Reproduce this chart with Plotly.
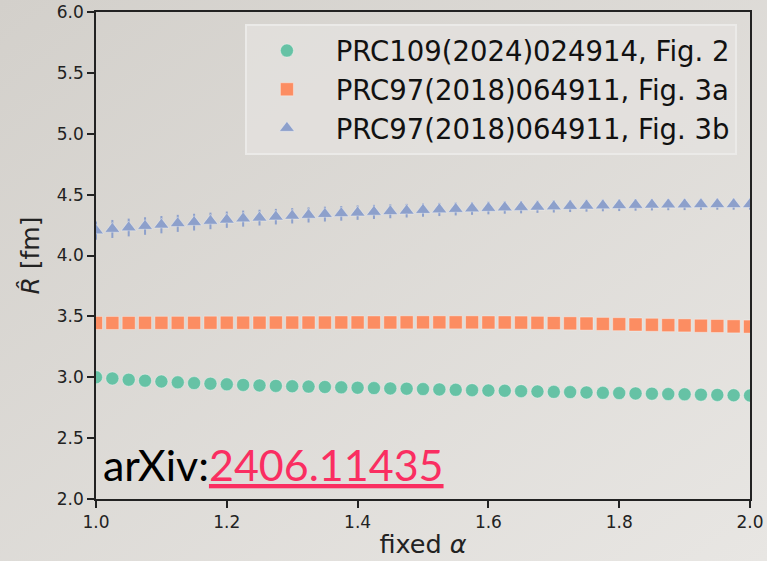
import base64
import plotly.graph_objects as go

alpha = [round(1.0 + 0.025 * i, 3) for i in range(41)]

green = [3.000, 2.990, 2.980, 2.972, 2.965, 2.958, 2.952, 2.947, 2.942, 2.937,
         2.933, 2.929, 2.926, 2.923, 2.920, 2.917, 2.914, 2.911, 2.908, 2.906,
         2.903, 2.900, 2.897, 2.894, 2.891, 2.889, 2.886, 2.883, 2.880, 2.878,
         2.875, 2.872, 2.870, 2.867, 2.865, 2.862, 2.860, 2.857, 2.855, 2.852, 2.850]
green_err = [0.02] * 41

orange = [3.446, 3.446, 3.446, 3.447, 3.447, 3.447, 3.447, 3.448, 3.448, 3.448,
          3.448, 3.449, 3.449, 3.449, 3.449, 3.450, 3.450, 3.450, 3.450, 3.451,
          3.451, 3.451, 3.451, 3.451, 3.450, 3.450, 3.449, 3.447, 3.445, 3.443,
          3.441, 3.438, 3.436, 3.433, 3.431, 3.428, 3.426, 3.423, 3.421, 3.418, 3.416]
orange_err = [0.02] * 41

blue = [4.205, 4.218, 4.230, 4.242, 4.253, 4.264, 4.274, 4.284, 4.294, 4.303,
        4.311, 4.319, 4.326, 4.333, 4.340, 4.346, 4.352, 4.358, 4.363, 4.368,
        4.373, 4.378, 4.382, 4.386, 4.390, 4.394, 4.397, 4.400, 4.403, 4.406,
        4.409, 4.411, 4.413, 4.415, 4.417, 4.418, 4.419, 4.420, 4.421, 4.421, 4.421]
blue_err = [0.075, 0.074, 0.073, 0.072, 0.071, 0.070, 0.069, 0.068, 0.067, 0.066,
            0.065, 0.064, 0.063, 0.062, 0.061, 0.060, 0.059, 0.058, 0.057, 0.056,
            0.055, 0.054, 0.053, 0.052, 0.052, 0.051, 0.051, 0.050, 0.050, 0.049,
            0.049, 0.048, 0.048, 0.047, 0.047, 0.046, 0.046, 0.045, 0.045, 0.045, 0.045]

names = ["PRC109(2024)024914, Fig. 2", "PRC97(2018)064911, Fig. 3a", "PRC97(2018)064911, Fig. 3b"]
colors = ["#66c2a5", "#fc8d62", "#8da0cb"]
symbols = ["circle", "square", "triangle-up"]
series = [(green, green_err), (orange, orange_err), (blue, blue_err)]

W, H = 767, 561
ML, MR, MT, MB = 96, 17, 12, 62
PW, PH = W - ML - MR, H - MT - MB

fig = go.Figure()
for (vals, errs), name, col, sym in zip(series, names, colors, symbols):
    fig.add_trace(go.Scatter(
        x=alpha, y=vals, mode="markers", name="\u00a0" + name,
        marker=dict(symbol=sym, size=13, color=col,
                    line=dict(width=1, color="rgba(255,255,255,0.35)")),
        error_y=dict(type="data", array=errs, visible=True, color=col,
                     thickness=2, width=0),
        cliponaxis=True,
    ))

# slide background gradient
svg = ("<svg xmlns='http://www.w3.org/2000/svg' width='767' height='561'>"
       "<defs><linearGradient id='g' x1='0' y1='0' x2='1' y2='1'>"
       "<stop offset='0' stop-color='#d3d0cb'/><stop offset='1' stop-color='#e8e6e3'/>"
       "</linearGradient></defs><rect width='767' height='561' fill='url(#g)'/></svg>")
src = "data:image/svg+xml;base64," + base64.b64encode(svg.encode()).decode()
fig.add_layout_image(
    source=src, xref="paper", yref="paper",
    x=-ML / PW, y=1 + MT / PH, sizex=W / PW, sizey=H / PH,
    xanchor="left", yanchor="top", sizing="stretch", layer="below",
)

fig.add_annotation(
    xref="paper", yref="paper", x=0.008, y=0.015, xanchor="left", yanchor="bottom",
    text="arXiv:<span style='color:#fa2e61'><u>2406.11435</u></span>",
    showarrow=False, font=dict(family="Lato", size=43, color="#000000"),
)

fig.update_layout(
    width=W, height=H,
    margin=dict(l=ML, r=MR, t=MT, b=MB),
    paper_bgcolor="#dddad6", plot_bgcolor="rgba(0,0,0,0)",
    showlegend=True,
    legend=dict(
        x=0.980, y=0.975, xanchor="right", yanchor="top",
        bgcolor="rgba(228,226,223,0.75)", bordercolor="#ebeae8", borderwidth=2,
        font=dict(family="DejaVu Sans", size=27.5, color="#111111"),
        itemwidth=70, tracegroupgap=0,
    ),
    xaxis=dict(
        range=[1.0, 2.0], dtick=0.2, tick0=1.0, tickformat=".1f", automargin=False,
        ticks="outside", ticklen=7, tickwidth=1.5, tickcolor="#222",
        showline=True, linecolor="#222", linewidth=1.5, mirror=True,
        showgrid=False, zeroline=False,
        tickfont=dict(family="DejaVu Sans", size=17, color="#222"),
        title=dict(text="fixed <i>α</i>", font=dict(family="DejaVu Sans", size=25.5, color="#222"),
                   standoff=4),
    ),
    yaxis=dict(
        range=[2.0, 6.0], dtick=0.5, tick0=2.0, tickformat=".1f", automargin=False,
        ticks="outside", ticklen=7, tickwidth=1.5, tickcolor="#222",
        showline=True, linecolor="#222", linewidth=1.5, mirror=True,
        showgrid=False, zeroline=False,
        tickfont=dict(family="DejaVu Sans", size=17, color="#222"),
        title=dict(text="<i>R\u0302</i> [fm]", font=dict(family="DejaVu Sans", size=25, color="#222"),
                   standoff=10),
    ),
)

fig.write_html("out.html")
